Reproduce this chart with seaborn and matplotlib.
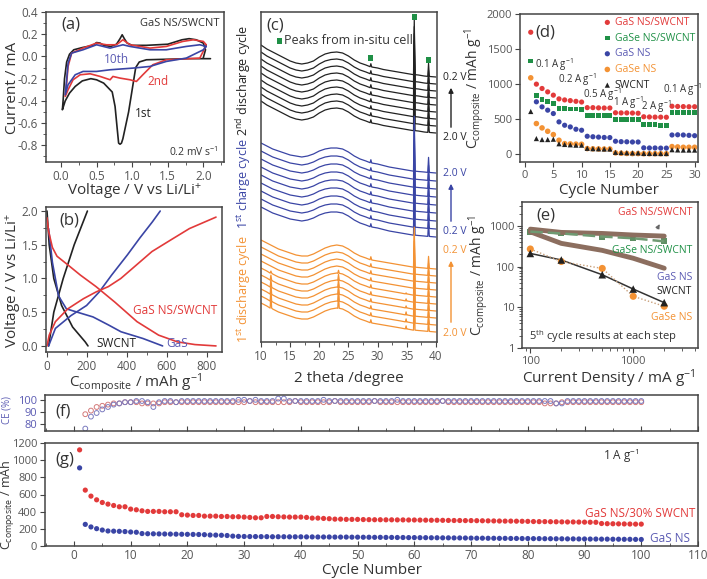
import numpy as np
import matplotlib
matplotlib.use('Agg')
import matplotlib.pyplot as plt
import matplotlib.patches as mpatches
import seaborn as sns
from matplotlib.ticker import MultipleLocator, FormatStrFormatter, NullFormatter, LogLocator

sns.set_theme(style='ticks')
plt.rcParams['font.family'] = ['Open Sans', 'DejaVu Sans']
plt.rcParams['mathtext.fontset'] = 'custom'
plt.rcParams['mathtext.rm'] = 'Open Sans'
plt.rcParams['mathtext.it'] = 'Open Sans:italic'
plt.rcParams['mathtext.bf'] = 'Open Sans:bold'
plt.rcParams['axes.unicode_minus'] = False

# ---------------- data ----------------
# (a) cyclic voltammetry
cv1_v = [2.10, 1.80, 1.50, 1.20, 1.10, 1.05, 1.00, 0.95, 0.90, 0.87, 0.85, 0.83, 0.81, 0.79, 0.76, 0.72, 0.69, 0.66, 0.60, 0.50, 0.42, 0.30, 0.20, 0.12, 0.06, 0.03, 0.02, 0.03, 0.05, 0.08, 0.12, 0.18, 0.30, 0.45, 0.50, 0.55, 0.60, 0.70, 0.78, 0.83, 0.86, 0.89, 0.93, 1.00, 1.20, 1.50, 1.70, 1.80, 1.90, 2.00, 2.03, 2.00]
cv1_i = [-0.02, -0.02, -0.025, -0.03, -0.05, -0.10, -0.30, -0.50, -0.65, -0.74, -0.78, -0.79, -0.78, -0.65, -0.45, -0.32, -0.30, -0.28, -0.24, -0.21, -0.20, -0.22, -0.27, -0.33, -0.40, -0.46, -0.48, -0.40, -0.20, -0.05, 0.02, 0.06, 0.08, 0.10, 0.125, 0.12, 0.10, 0.09, 0.11, 0.16, 0.195, 0.16, 0.12, 0.10, 0.10, 0.11, 0.15, 0.16, 0.15, 0.12, 0.06, -0.01]
cv2_v = [2.04, 1.95, 1.48, 1.29, 1.15, 1.06, 0.97, 0.83, 0.73, 0.69, 0.55, 0.41, 0.27, 0.17, 0.10, 0.06, 0.08, 0.10, 0.15, 0.31, 0.50, 0.64, 0.78, 0.87, 0.97, 1.25, 1.48, 1.71, 1.86, 2.00, 2.04]
cv2_i = [0.10, -0.015, -0.03, -0.075, -0.165, -0.225, -0.21, -0.195, -0.18, -0.21, -0.18, -0.156, -0.165, -0.21, -0.30, -0.36, -0.24, -0.09, 0.03, 0.075, 0.12, 0.105, 0.105, 0.15, 0.105, 0.075, 0.09, 0.135, 0.15, 0.135, 0.105]
cv10_v = [2.04, 2.00, 1.76, 1.48, 1.25, 1.01, 0.69, 0.50, 0.31, 0.20, 0.10, 0.06, 0.08, 0.10, 0.15, 0.31, 0.50, 0.69, 0.87, 0.97, 1.25, 1.48, 1.76, 1.95, 2.04]
cv10_i = [0.09, 0.06, -0.015, -0.045, -0.09, -0.105, -0.12, -0.135, -0.135, -0.165, -0.255, -0.345, -0.21, -0.06, 0.03, 0.06, 0.105, 0.075, 0.105, 0.09, 0.06, 0.06, 0.09, 0.105, 0.09]

# (b) galvanostatic profiles
sw_dis_c = [0, 11, 34, 73, 128, 191, 205]
sw_dis_v = [2.0, 1.5, 1.0, 0.6, 0.28, 0.06, 0.0]
sw_chg_c = [8, 34, 81, 136, 202]
sw_chg_v = [0.0, 0.5, 1.0, 1.5, 2.0]
gs_dis_c = [8, 27, 58, 97, 152, 230, 308, 370, 480, 578]
gs_dis_v = [1.74, 1.24, 0.74, 0.55, 0.50, 0.43, 0.31, 0.21, 0.11, 0.0]
gs_chg_c = [8, 42, 120, 198, 261, 323, 402, 464, 527, 566]
gs_chg_v = [0.0, 0.26, 0.45, 0.60, 0.80, 1.05, 1.35, 1.60, 1.84, 2.0]
gc_dis_c = [0, 8, 27, 50, 105, 167, 245, 339, 450, 558, 652, 740, 845]
gc_dis_v = [1.90, 1.70, 1.46, 1.33, 1.20, 1.05, 0.88, 0.65, 0.36, 0.16, 0.06, 0.02, 0.0]
gc_chg_c = [0, 11, 42, 104, 182, 245, 307, 369, 447, 525, 618, 712, 845]
gc_chg_v = [0.0, 0.16, 0.36, 0.55, 0.70, 0.80, 0.88, 1.00, 1.20, 1.40, 1.57, 1.74, 1.91]

# (c) in-situ XRD (stacked, arbitrary offsets)
xrd_tt = [10, 11, 12, 13, 14, 15, 16, 17, 18, 19, 20, 21, 22, 23, 24, 25, 26, 27, 28, 29, 30, 31, 32, 33, 34, 35, 36, 37, 38, 39, 40]
shape_dis2 = [0, -4, -7, -10, -13, -16, -18, -19, -18, -16, -12, -9, -7.5, -7, -8, -11, -15, -18, -20, -22, -23, -24.5, -25.5, -26.5, -27.5, -28.5, -29.5, -30, -31, -31.5, -32]
shape_chg1 = [0, -3, -6, -8, -10, -12, -13, -14, -13, -11, -8, -6, -5, -5, -6, -9, -13, -16, -18, -20, -21, -22.5, -24, -25, -26, -27, -28, -28.5, -29, -29.5, -30]
shape_dis1 = [0, -3, -6, -9, -11, -13, -15, -16, -16, -14, -11, -8, -6, -5, -6, -9, -13, -16, -18, -20, -21, -22, -23, -24, -25, -26, -27, -27.5, -28, -28.5, -29]
offs_dis2 = [297, 290, 283, 276, 269, 262, 255, 248, 241]
offs_chg1 = [199, 191, 183, 175, 167, 159, 151, 143, 135]
offs_dis1 = [102, 95, 88, 81, 74, 67, 60, 53, 46, 39]
cell_peaks = [28.85, 36.3, 38.75]
cell_h_dis2 = [3, 55, 13]
cell_h_chg1 = [3, 55, 15]
cell_h_dis1 = [3, 40, 12]
gas_peak_11 = [0, 0, 0, 0, 2, 5, 8, 10, 12, 14]
gas_peak_23 = [0, 0, 0, 0, 3, 6, 8, 10, 12, 14]
gas_peak_35 = [0, 0, 0, 0, 1, 2, 2, 3, 3, 3]
marker_tt = [28.85, 36.3, 38.75]
marker_y = [284, 325, 282]

# (d) rate capability
cyc_d = list(range(1, 31))
d_gas_swcnt = [1740, 1000, 938, 890, 843, 790, 775, 765, 755, 745, 665, 665, 662, 660, 660, 592, 590, 590, 588, 585, 535, 532, 530, 530, 528, 685, 682, 680, 678, 678]
d_gase_swcnt = [1330, 833, 781, 748, 724, 655, 650, 645, 645, 635, 557, 555, 550, 550, 548, 500, 500, 498, 495, 495, 425, 420, 420, 415, 415, 600, 595, 595, 590, 590]
d_gas = [np.nan, 748, 676, 629, 581, 462, 414, 390, 357, 343, 257, 250, 245, 240, 238, 186, 180, 178, 175, 175, 92, 90, 90, 88, 88, 275, 278, 275, 270, 265]
d_gase = [1090, 438, 376, 328, 281, 200, 152, 148, 145, 143, 81, 78, 76, 75, 75, 20, 15, 12, 10, 10, 8, 8, 8, 8, 8, 110, 105, 100, 100, 100]
d_swcnt = [610, 224, 210, 210, 215, 150, 140, 135, 130, 130, 85, 80, 78, 75, 75, 28, 25, 22, 20, 20, 12, 12, 11, 11, 11, 65, 62, 60, 60, 60]

# (e) 5th-cycle capacity vs current density
e_x = [100, 200, 500, 1000, 2000]
e_gas_swcnt = [830, 690, 650, 595, 560]
e_gase_swcnt = [720, 650, 545, 495, 415]
e_gas = [714, 371, 250, 160, 91]
e_swcnt = [210, 145, 63, 28, 13]
e_gase = [270, 133, 90, 18.6, 10.6]

# (f) coulombic efficiency, cycles 2..100
ce_red = [88, 91, 94, 95, 96, 97, 97, 98, 98,
          98, 97, 97, 97, 97, 98, 98, 98, 98, 98,
          98, 98, 98, 98, 98, 98, 98, 98, 98, 98,
          99, 98, 98, 98, 98, 98, 98, 98, 99, 98,
          98, 98, 98, 98, 98, 99, 98, 98, 98, 98,
          98, 98, 99, 98, 98, 98, 98, 98, 98, 98,
          98, 98, 98, 98, 99, 98, 98, 98, 98, 98,
          98, 98, 98, 98, 98, 98, 98, 98, 98, 98,
          98, 98, 97, 97, 97, 98, 98, 98, 98, 98,
          98, 98, 98, 98, 98, 98, 98, 98, 98, 98]
ce_blue = [76, 86, 89, 92, 94, 96, 97, 98, 98,
           99, 99, 98, 94, 98, 99, 99, 98, 99, 99,
           99, 99, 99, 99, 99, 99, 99, 99, 100, 100,
           99, 100, 99, 99, 99, 101, 101, 99, 99, 99,
           99, 99, 99, 100, 99, 99, 99, 99, 99, 99,
           99, 99, 99, 99, 99, 99, 100, 99, 99, 99,
           99, 99, 99, 99, 99, 99, 99, 99, 99, 99,
           99, 99, 99, 99, 99, 99, 99, 99, 99, 99,
           99, 99, 99, 99, 97, 97, 99, 99, 99, 99,
           99, 99, 99, 99, 99, 99, 99, 99, 99, 99]

# (g) long cycling at 1 A/g, cycles 1..100
g_swcnt30 = [1120, 651, 581, 538, 507, 488, 472, 457, 457, 430,
             422, 410, 403, 403, 403, 399, 399, 399, 364, 360,
             356, 356, 348, 348, 348, 344, 344, 341, 341, 337,
             333, 329, 329, 344, 344, 341, 339, 337, 337, 337,
             333, 325, 325, 321, 318, 313, 313, 310, 310, 310,
             308, 307, 306, 306, 305, 305, 304, 304, 303, 303,
             302, 301, 300, 300, 299, 298, 297, 297, 296, 296,
             295, 294, 293, 292, 291, 290, 290, 289, 288, 287,
             285, 284, 284, 283, 282, 281, 280, 280, 279, 278,
             277, 276, 262, 260, 259, 258, 257, 256, 255, 255]
g_gas = [910, 252, 222, 202, 186, 175, 173, 171, 168, 163,
         160, 145, 143, 142, 141, 140, 139, 138, 137, 136,
         135, 134, 132, 128, 127, 125, 122, 115, 112, 111,
         110, 110, 109, 109, 108, 108, 108, 107, 107, 107,
         106, 106, 105, 105, 105, 104, 104, 104, 103, 103,
         102, 102, 101, 101, 100, 100, 99, 99, 98, 98,
         97, 97, 96, 96, 95, 95, 94, 94, 93, 92,
         91, 91, 90, 90, 89, 89, 88, 88, 87, 87,
         86, 86, 85, 85, 84, 84, 83, 83, 82, 82,
         81, 81, 80, 80, 79, 79, 78, 78, 77, 76]

# ---------------- style ----------------
W, H = 707, 579
fig = plt.figure(figsize=(W / 100, H / 100), dpi=100)

RED = '#e23a3a'
GREEN = '#1f9046'
BLUE = '#3a45a5'
ORANGE = '#f39234'
BLACK = '#222222'
TXT_BLUE = '#5b5bb3'
TICKC = '#555555'
LABC = '#333333'


def axes_px(l, t, r, b):
    return fig.add_axes([l / W, 1 - b / H, (r - l) / W, (b - t) / H])


def style(ax, size=8.5):
    ax.tick_params(which='major', labelsize=size, labelcolor=TICKC, color='#444', width=0.8, length=3.5, direction='out', pad=2)
    ax.tick_params(which='minor', color='#444', width=0.6, length=2, direction='out')
    for s in ax.spines.values():
        s.set_color('#444')
        s.set_linewidth(1.1)


def ftext(x, y, s, **kw):
    return fig.text(x / W, 1 - y / H, s, **kw)


def xlab(x, y, s, size=11):
    ftext(x, y, s, ha='center', va='center', fontsize=size, color=LABC)


def ylab(x, y, s, size=11, color=LABC):
    ftext(x, y, s, ha='center', va='center', rotation=90, fontsize=size, color=color)


def line(ax, x, y, **kw):
    sns.lineplot(x=x, y=y, sort=False, estimator=None, ax=ax, **kw)


# ---------------- (a) ----------------
ax = axes_px(46, 12, 224, 162)
line(ax, cv1_v, cv1_i, color=BLACK, lw=1.2)
line(ax, cv2_v, cv2_i, color=RED, lw=1.2)
line(ax, cv10_v, cv10_i, color=BLUE, lw=1.2)
ax.set_xlim(-0.21, 2.29)
ax.set_ylim(-0.95, 0.4)
ax.xaxis.set_major_locator(MultipleLocator(0.5))
ax.xaxis.set_minor_locator(MultipleLocator(0.25))
ax.yaxis.set_major_locator(MultipleLocator(0.2))
ax.yaxis.set_minor_locator(MultipleLocator(0.1))
ax.xaxis.set_major_formatter(FormatStrFormatter('%.1f'))
ax.yaxis.set_major_formatter(FormatStrFormatter('%.1f'))
style(ax)
xlab(135, 191, 'Voltage / V vs Li/Li$^{+}$')
ylab(13, 88, 'Current / mA')
ax.text(0.0, 0.29, '(a)', fontsize=12, color=LABC, va='center')
ax.text(2.22, 0.30, 'GaS NS/SWCNT', fontsize=8, color=LABC, ha='right', va='center')
ax.text(0.78, -0.03, '10th', fontsize=8.5, color=TXT_BLUE, ha='center', va='center')
ax.text(1.36, -0.225, '2nd', fontsize=8.5, color=RED, ha='center', va='center')
ax.text(1.15, -0.51, '1st', fontsize=8.5, color=BLACK, ha='center', va='center')
ax.text(2.22, -0.86, '0.2 mV s$^{-1}$', fontsize=7.5, color=LABC, ha='right', va='center')

# ---------------- (b) ----------------
ax = axes_px(46, 207, 222, 352)
line(ax, sw_dis_c, sw_dis_v, color=BLACK, lw=1.2)
line(ax, sw_chg_c, sw_chg_v, color=BLACK, lw=1.2)
line(ax, gs_dis_c, gs_dis_v, color=BLUE, lw=1.2)
line(ax, gs_chg_c, gs_chg_v, color=BLUE, lw=1.2)
line(ax, gc_dis_c, gc_dis_v, color=RED, lw=1.2)
line(ax, gc_chg_c, gc_chg_v, color=RED, lw=1.2)
ax.set_xlim(-5, 875)
ax.set_ylim(-0.09, 2.06)
ax.xaxis.set_major_locator(MultipleLocator(200))
ax.xaxis.set_minor_locator(MultipleLocator(100))
ax.yaxis.set_major_locator(MultipleLocator(0.5))
ax.yaxis.set_minor_locator(MultipleLocator(0.25))
ax.yaxis.set_major_formatter(FormatStrFormatter('%.1f'))
style(ax)
xlab(135, 384, 'C$_{\\rm composite}$ / mAh g$^{-1}$')
ylab(13, 280, 'Voltage / V vs Li/Li$^{+}$')
ax.text(60, 1.86, '(b)', fontsize=12, color=LABC, va='center')
ax.text(640, 0.53, 'GaS NS/SWCNT', fontsize=8.5, color=RED, ha='center', va='center')
ax.text(245, 0.03, 'SWCNT', fontsize=8.5, color=BLACK, ha='left', va='center')
ax.text(595, 0.03, 'GaS', fontsize=8.5, color=TXT_BLUE, ha='left', va='center')

# ---------------- (c) ----------------
ax = axes_px(261, 12, 437, 342)


def xrd_trace(shape, offset, peaks):
    base = [offset + s for s in shape]
    xs = list(xrd_tt)
    ys = list(base)
    for c, h in peaks:
        if h == 0:
            continue
        b = float(np.interp(c, xrd_tt, base))
        xs += [c - 0.13, c, c + 0.13]
        ys += [b, b + h, b]
    order = np.argsort(xs, kind='stable')
    return list(np.array(xs)[order]), list(np.array(ys)[order])


for i, off in enumerate(offs_dis2):
    x, y = xrd_trace(shape_dis2, off, zip(cell_peaks, cell_h_dis2))
    line(ax, x, y, color=BLACK, lw=0.9)
for i, off in enumerate(offs_chg1):
    x, y = xrd_trace(shape_chg1, off, zip(cell_peaks, cell_h_chg1))
    line(ax, x, y, color=BLUE, lw=0.9)
for i, off in enumerate(offs_dis1):
    pk = list(zip(cell_peaks, cell_h_dis1)) + [(11.7, gas_peak_11[i]), (23.3, gas_peak_23[i]), (34.9, gas_peak_35[i])]
    x, y = xrd_trace(shape_dis1, off, pk)
    line(ax, x, y, color=ORANGE, lw=0.9)
sns.scatterplot(x=marker_tt, y=marker_y, marker='s', s=14, color=GREEN, edgecolor='none', ax=ax, zorder=5)
sns.scatterplot(x=[13.2], y=[301], marker='s', s=14, color=GREEN, edgecolor='none', ax=ax, zorder=5)
ax.text(14.0, 301, 'Peaks from in-situ cell', fontsize=9, color=LABC, va='center')
ax.text(11.0, 316, '(c)', fontsize=12, color=LABC, va='center')
ax.set_xlim(10, 40.2)
ax.set_ylim(0, 330)
ax.set_yticks([])
ax.xaxis.set_major_locator(MultipleLocator(5))
ax.xaxis.set_minor_locator(MultipleLocator(2.5))
style(ax)
xlab(349, 378, '2 theta /degree')

ylab(244, 81, '2$^{\\rm nd}$ discharge cycle', size=9, color=BLACK)
ylab(244, 184, '1$^{\\rm st}$ charge cycle', size=9, color=BLUE)
ylab(244, 289, '1$^{\\rm st}$ discharge cycle', size=9, color=ORANGE)
for (ytop, ybot, ttop, tbot, col) in [(77, 138, '0.2 V', '2.0 V', BLACK),
                                      (173, 232, '2.0 V', '0.2 V', BLUE),
                                      (250, 333, '0.2 V', '2.0 V', ORANGE)]:
    ftext(443, ytop, ttop, fontsize=7.5, color=col, ha='left', va='center')
    ftext(443, ybot, tbot, fontsize=7.5, color=col, ha='left', va='center')
    fig.add_artist(mpatches.FancyArrowPatch(
        (451 / W, 1 - (ybot - 8) / H), (451 / W, 1 - (ytop + 8) / H),
        transform=fig.transFigure, arrowstyle='-|>', mutation_scale=7, color=col, lw=1.0))

# ---------------- (d) ----------------
ax = axes_px(520, 14, 698, 162)
sns.scatterplot(x=cyc_d, y=d_gas_swcnt, color=RED, s=14, edgecolor='none', ax=ax, label='GaS NS/SWCNT')
sns.scatterplot(x=cyc_d, y=d_gase_swcnt, color=GREEN, marker='s', s=12, edgecolor='none', ax=ax, label='GaSe NS/SWCNT')
sns.scatterplot(x=cyc_d, y=d_gas, color=BLUE, s=14, edgecolor='none', ax=ax, label='GaS NS')
sns.scatterplot(x=cyc_d, y=d_gase, color=ORANGE, s=16, edgecolor='none', ax=ax, label='GaSe NS')
sns.scatterplot(x=cyc_d, y=d_swcnt, color=BLACK, marker='^', s=14, edgecolor='none', ax=ax, label='SWCNT')
ax.set_xlim(-0.9, 30.6)
ax.set_ylim(-110, 2000)
ax.xaxis.set_major_locator(MultipleLocator(5))
ax.yaxis.set_major_locator(MultipleLocator(500))
style(ax, size=8)
leg = ax.legend(loc='upper right', frameon=False, fontsize=7.5, handletextpad=0.1, borderaxespad=0.1,
                labelspacing=0.45, borderpad=0.2, handlelength=1.2)
for t, c in zip(leg.get_texts(), [RED, GREEN, TXT_BLUE, ORANGE, BLACK]):
    t.set_color(c)
xlab(609, 190, 'Cycle Number')
ylab(475, 88, 'C$_{\\rm composite}$ / mAh g$^{-1}$', size=10)
ax.text(1.8, 1730, '(d)', fontsize=12, color=LABC, va='center')
for (xx, yy, s) in [(1.7, 1273, '0.1 A g$^{-1}$'), (5.8, 1059, '0.2 A g$^{-1}$'), (10.2, 845, '0.5 A g$^{-1}$'),
                    (15.5, 731, '1 A g$^{-1}$'), (20.5, 674, '2 A g$^{-1}$'), (24.4, 916, '0.1 A g$^{-1}$')]:
    ax.text(xx, yy, s, fontsize=7, color=LABC, va='center')

# ---------------- (e) ----------------
ax = axes_px(522, 202, 698, 348)
BROWN = '#8c6e5f'
line(ax, e_x, e_gas_swcnt, color=BROWN, lw=3.5)
line(ax, e_x, e_gas, color=BROWN, lw=3.5)
line(ax, e_x, e_gase_swcnt, color='#6f9a72', lw=1.8, dashes=(5, 2))
sns.scatterplot(x=e_x, y=e_gase_swcnt, color='#5f8f64', marker='s', s=18, edgecolor='none', ax=ax)
line(ax, e_x, e_swcnt, color='#333333', lw=1.1)
sns.scatterplot(x=e_x, y=e_swcnt, color=BLACK, marker='^', s=30, edgecolor='none', ax=ax, zorder=4)
line(ax, e_x, e_gase, color='#c9a07a', lw=1.0, dashes=(1, 1.5))
sns.scatterplot(x=e_x, y=e_gase, color=ORANGE, marker='o', s=26, edgecolor='none', ax=ax, zorder=3)
ax.set_xscale('log')
ax.set_yscale('log')
ax.set_xlim(83, 4260)
ax.set_ylim(1, 3850)
ax.set_xticks([100, 1000])
ax.set_xticklabels(['100', '1000'])
ax.set_yticks([1, 10, 100, 1000])
ax.set_yticklabels(['1', '10', '100', '1000'])
ax.xaxis.set_minor_locator(LogLocator(base=10, subs=np.arange(2, 10)))
ax.yaxis.set_minor_locator(LogLocator(base=10, subs=np.arange(2, 10)))
ax.xaxis.set_minor_formatter(NullFormatter())
ax.yaxis.set_minor_formatter(NullFormatter())
style(ax, size=8)
xlab(609, 379, 'Current Density / mA g$^{-1}$')
ylab(479, 275, 'C$_{\\rm composite}$ / mAh g$^{-1}$', size=10)
ax.text(0.08, 0.91, '(e)', transform=ax.transAxes, fontsize=12, color=LABC, va='center')
ax.text(0.966, 0.925, 'GaS NS/SWCNT', transform=ax.transAxes, fontsize=7.5, color=RED, ha='right', va='center')
ax.text(0.966, 0.67, 'GaSe NS/SWCNT', transform=ax.transAxes, fontsize=7.5, color=GREEN, ha='right', va='center')
ax.text(0.966, 0.486, 'GaS NS', transform=ax.transAxes, fontsize=7.5, color=TXT_BLUE, ha='right', va='center')
ax.text(0.966, 0.39, 'SWCNT', transform=ax.transAxes, fontsize=7.5, color=BLACK, ha='right', va='center')
ax.text(0.966, 0.212, 'GaSe NS', transform=ax.transAxes, fontsize=7.5, color=ORANGE, ha='right', va='center')
ax.text(0.04, 0.075, '5$^{\\rm th}$ cycle results at each step', transform=ax.transAxes, fontsize=8, color=LABC, va='center')
ax.annotate('', xy=(0.79, 0.865), xytext=(0.76, 0.80), xycoords='axes fraction',
            arrowprops=dict(arrowstyle='-|>', color='#666', lw=0.8, mutation_scale=6))

# ---------------- (f) ----------------
ax = axes_px(45, 395, 698, 431)
cyc_f = list(range(2, 2 + len(ce_red)))
sns.scatterplot(x=cyc_f, y=ce_red, marker='o', s=12, facecolor='none', edgecolor='#d47a7a', linewidth=0.7, ax=ax)
sns.scatterplot(x=cyc_f, y=ce_blue, marker='o', s=12, facecolor='none', edgecolor='#7b7bbf', linewidth=0.7, ax=ax)
ax.set_xlim(-5.1, 110)
ax.set_ylim(74, 104)
ax.set_yticks([80, 90, 100])
ax.xaxis.set_major_locator(MultipleLocator(10))
ax.xaxis.set_minor_locator(MultipleLocator(5))
style(ax)
ax.tick_params(axis='y', labelcolor=TXT_BLUE, labelsize=8)
ax.tick_params(axis='x', which='both', direction='in', labelbottom=False)
ylab(7, 410, 'CE (%)', size=7, color=TXT_BLUE)
ax.text(-3.3, 90, '(f)', fontsize=12, color=LABC, va='center', ha='left')

# ---------------- (g) ----------------
ax = axes_px(45, 443, 698, 546)
cyc_g = list(range(1, 1 + len(g_gas)))
sns.scatterplot(x=cyc_g, y=g_swcnt30, color=RED, s=14, edgecolor='none', ax=ax)
sns.scatterplot(x=cyc_g, y=g_gas, color=BLUE, s=14, edgecolor='none', ax=ax)
ax.set_xlim(-5.1, 110)
ax.set_ylim(0, 1200)
ax.xaxis.set_major_locator(MultipleLocator(10))
ax.xaxis.set_minor_locator(MultipleLocator(5))
ax.yaxis.set_major_locator(MultipleLocator(200))
style(ax, size=8)
ax.tick_params(axis='x', which='both', direction='in', labelsize=8.5)
xlab(372, 570, 'Cycle Number')
ylab(8, 505, 'C$_{\\rm composite}$ / mAh', size=9)
ax.text(-3.3, 1005, '(g)', fontsize=12, color=LABC, va='center', ha='left')
ax.text(96.5, 1045, '1 A g$^{-1}$', fontsize=8.5, color=LABC, ha='center', va='center')
ax.text(109.6, 380, 'GaS NS/30% SWCNT', fontsize=8.5, color=RED, ha='right', va='center')
ax.text(101.5, 90, 'GaS NS', fontsize=8.5, color=TXT_BLUE, ha='left', va='center')

fig.savefig('out.png', dpi=100)
